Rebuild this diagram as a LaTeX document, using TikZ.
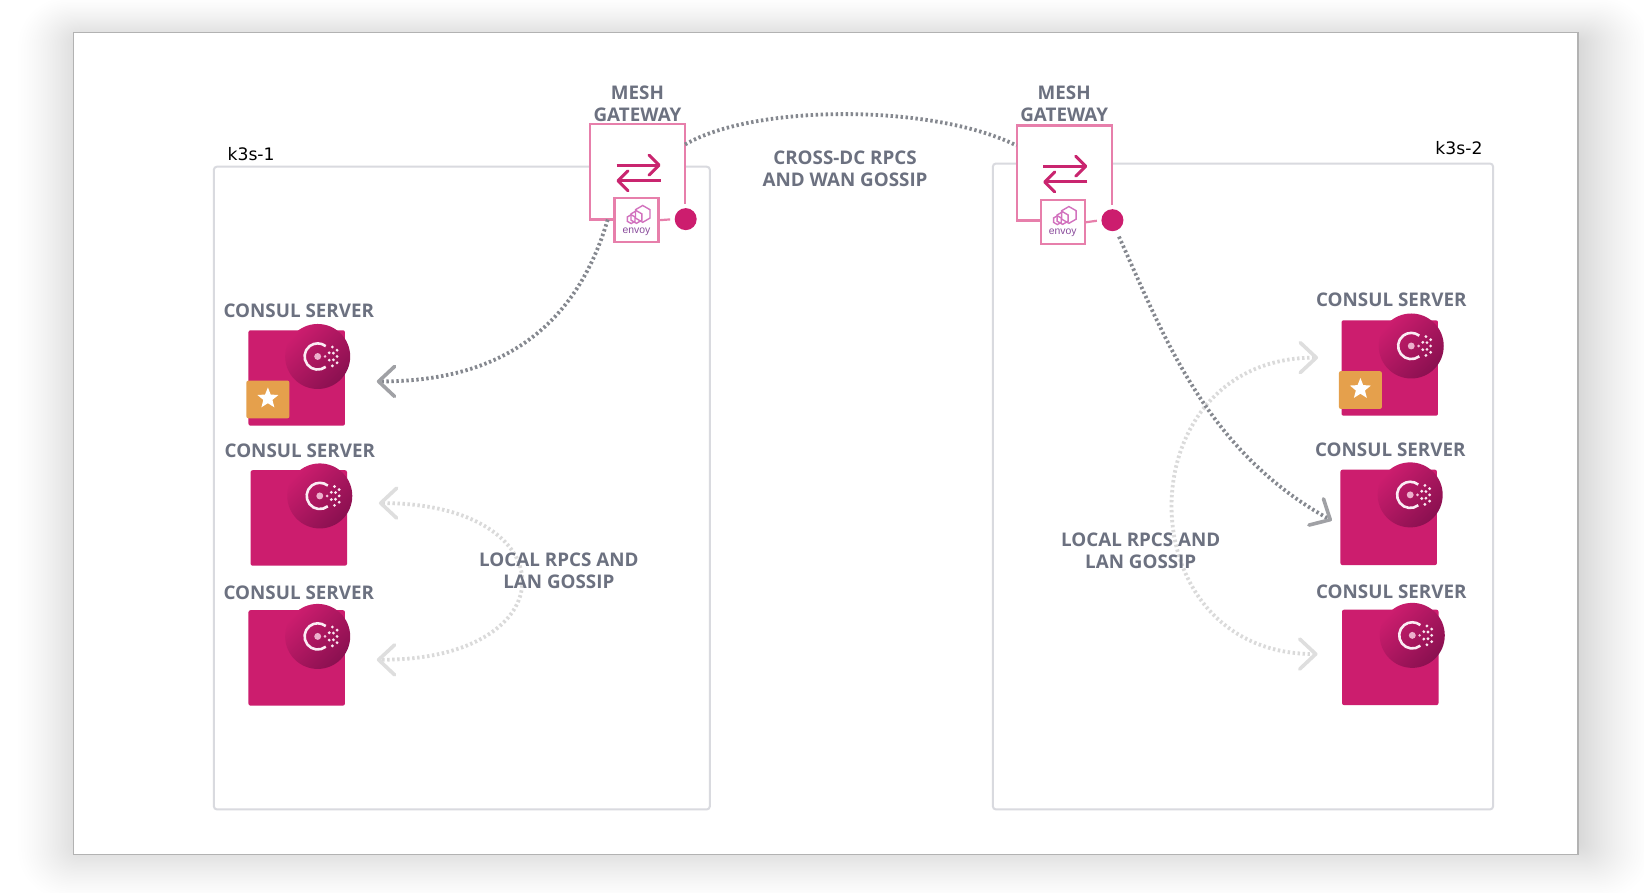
\documentclass[tikz,border=0pt]{standalone}
\usepackage{fontspec}
\setmainfont{Open Sans}
\newfontfamily\kfont{DejaVu Sans}
\newfontfamily\envfont{Liberation Sans}
\usetikzlibrary{arrows.meta,shapes.geometric,calc}
\definecolor{consul}{HTML}{CC1D6E}
\definecolor{consuldark}{HTML}{8A1050}
\definecolor{gwline}{HTML}{E77FAB}
\definecolor{gwarrow}{HTML}{C9256F}
\definecolor{lbl}{HTML}{6C7180}
\definecolor{boxline}{HTML}{D9DADF}
\definecolor{linkdark}{HTML}{85888F}
\definecolor{linklight}{HTML}{DADADA}
\definecolor{tipdark}{HTML}{A0A1A5}
\definecolor{tiplight}{HTML}{DEDEDE}
\definecolor{starbg}{HTML}{E5A04C}
\definecolor{envoyhex}{HTML}{D272BE}
\definecolor{envoytxt}{HTML}{8A4C9C}
\def\U{0.52425pt}
\tikzset{
  lbltext/.style={text=lbl,font=\fontsize{9.4}{11}\selectfont\bfseries,align=center,inner sep=0pt},
  kbox/.style={draw=boxline,line width=1pt,fill=white,rounded corners=1.5pt},
  ktext/.style={font=\fontsize{8.6}{10}\selectfont\kfont,text=black,inner sep=0pt},
  gwbox/.style={fill=white,minimum width=90*\U,minimum height=90*\U,inner sep=0pt},
  gwedge/.style={draw=gwline,line width=1.1pt},
  envbox/.style={draw=gwline,line width=1.1pt,fill=white,minimum width=42*\U,minimum height=42*\U,inner sep=0pt},
  gwdot/.style={circle,fill=consul,minimum size=21*\U,inner sep=0pt},
  serverbox/.style={fill=consul,minimum width=92*\U,minimum height=91*\U,inner sep=0pt,rounded corners=1pt},
  badge/.style={circle,minimum size=62*\U,inner sep=0pt,left color=consul,middle color=consul!65!consuldark,right color=consuldark,shading angle=45},
  starbox/.style={fill=starbg,minimum width=41*\U,minimum height=36*\U,inner sep=0pt,rounded corners=1pt},
  starmark/.style={star,star points=5,star point ratio=2.3,fill=white,minimum size=21*\U,inner sep=0pt},
  darklink/.style={draw=linkdark,line width=1.9pt,dash pattern=on 1.2pt off 1.3pt},
  lightlink/.style={draw=linklight,line width=1.9pt,dash pattern=on 1.2pt off 1.3pt},
  darktip/.style={-{Straight Barb[length=8pt,width=15pt,line width=1.8pt,round,color=tipdark]}},
  lighttips/.style={{Straight Barb[length=8pt,width=15pt,line width=1.8pt,round,color=tiplight]}-{Straight Barb[length=8pt,width=15pt,line width=1.8pt,round,color=tiplight]}},
  pics/consulmark/.style={code={
    \draw[white!92!consul,line width=1.3pt] (52:12.5) arc[start angle=52,end angle=308,radius=12.5];
    \fill[white!65!consul] (0,0) circle (3.3);
    \fill[white!75!consul] (7,0) circle (1.4);
    \foreach \p in {(11,-3.5),(11,3.5),(14,-9),(14,9),(15,-3.2),(15,3.2),(18.5,-6),(18.5,0),(18.5,6)}
      \fill[white!90!consul] \p circle (1.5);
  }},
  pics/swaparrows/.style={code={
    \draw[gwarrow,line width=1.5pt,-{Straight Barb[length=5pt,width=10pt,line width=1.5pt,round]}] (-21,-7) -- (21,-7);
    \draw[gwarrow,line width=1.5pt,-{Straight Barb[length=5pt,width=10pt,line width=1.5pt,round]}] (21,8) -- (-21,8);
  }},
  pics/envoymark/.style={code={
    \foreach \c/\r in {(6,-3)/8,(0,0)/6,(-5,2)/4.2}{
      \draw[envoyhex,line width=0.7pt] \c ++(90:\r) -- ++(-30:\r) -- ++(-90:\r) -- ++(-150:\r) -- ++(150:\r) -- ++(90:\r) -- cycle;
    }
    \node[text=envoytxt,font=\fontsize{5.2}{5.5}\selectfont\envfont,inner sep=0pt] at (0,14) {envoy};
  }},
}
\begin{document}
\begin{tikzpicture}[x=\U,y=-\U]
\useasboundingbox (0,0) rectangle (1568,850.8);
% soft shadow behind the sheet
\foreach \i in {1,...,40}{
  \pgfmathsetmacro{\t}{(\i/40)^0.7}
  \pgfmathsetmacro{\xa}{12+68*\t}
  \pgfmathsetmacro{\ya}{-6+46*\t}
  \pgfmathsetmacro{\xb}{1580-75*\t}
  \pgfmathsetmacro{\yb}{862-57*\t}
  \pgfmathsetmacro{\rr}{26*(1-\t)+1}
  \fill[black,opacity=0.0048,rounded corners=\rr pt] (\xa,\ya) rectangle (\xb,\yb);
}
\path[fill=white,draw=black!30,line width=0.6pt] (70,31) rectangle (1505,815);
% cluster boxes
\path[kbox] (204,159) rectangle (677,772);
\path[kbox] (947,156) rectangle (1424,772);
\node[ktext] (k1) at (239.5,146.5) {k3s-1};
\node[ktext] (k2) at (1391.5,141.5) {k3s-2};
% gateways
\node[gwbox] (gw1) at (608,164) {};
\node[gwbox] (gw2) at (1015,165) {};
\draw[gwedge] ($(gw1.south east)+(0,-15)$) -- (gw1.north east) -- (gw1.north west) -- (gw1.south west) -- (gw1.south);
\draw[gwedge] ($(gw2.south east)+(0,-15)$) -- (gw2.north east) -- (gw2.north west) -- (gw2.south west) -- (gw2.south);
\pic at (609,164.5) {swaparrows};
\pic at (1016,165.5) {swaparrows};
\node[envbox] (env1) at (607,210) {};
\node[envbox] (env2) at (1013.5,212) {};
\pic at (607,207) {envoymark};
\pic at (1013.5,208) {envoymark};
\node[gwdot] (d1) at (654,209) {};
\node[gwdot] (d2) at (1061,210) {};
\draw[gwedge,shorten >=4*\U] (env1.east) -- (d1.west);
\draw[gwedge,shorten >=4*\U] (env2.east) -- (d2.west);
% servers left
\node[serverbox] (s1) at (283,360.5) {};
\node[serverbox] (s2) at (285,494) {};
\node[serverbox] (s3) at (283,627.5) {};
\node[badge] (b1) at (303,340) {};
\node[badge] (b2) at (305,473) {};
\node[badge] (b3) at (303,607) {};
\pic at (b1.center) {consulmark};
\pic at (b2.center) {consulmark};
\pic at (b3.center) {consulmark};
\node[starbox] (sb1) at (255.5,381) {};
\node[starmark] (st1) at (255.5,380) {};
% servers right
\node[serverbox] (s4) at (1325.5,351) {};
\node[serverbox] (s5) at (1324.5,493.5) {};
\node[serverbox] (s6) at (1326,627) {};
\node[badge] (b4) at (1346,330) {};
\node[badge] (b5) at (1345,472) {};
\node[badge] (b6) at (1347,606) {};
\pic at (b4.center) {consulmark};
\pic at (b5.center) {consulmark};
\pic at (b6.center) {consulmark};
\node[starbox] (sb4) at (1297.5,372) {};
\node[starmark] (st4) at (1297.5,371) {};
% connectors
\draw[lightlink,lighttips,shorten <=30*\U,shorten >=30*\U] (s2.17) .. controls (543,480) and (543,630) .. (s3.-2);
\draw[lightlink,lighttips,shorten <=22*\U,shorten >=23*\U] (s4.168) .. controls (1072,341) and (1072,624) .. (s6.176);
\draw[darklink] (gw1.30) .. controls (720,99) and (890,99) .. (gw2.150);
\draw[darklink,darktip,shorten >=30*\U] (gw1.-122) .. controls (550,310) and (480,364) .. (s1.-4);
\draw[darklink,darktip,shorten <=6*\U,shorten >=9*\U] (d2.-70) .. controls (1110,320) and (1150,430) .. (s5.189);
% labels
\node[lbltext] (t1) at (608,99) {MESH\\GATEWAY};
\node[lbltext] (t2) at (1015,99) {MESH\\GATEWAY};
\node[lbltext] (t3) at (806,160.5) {CROSS-DC RPCS\\AND WAN GOSSIP};
\node[lbltext] (t4) at (533,544) {LOCAL RPCS AND\\LAN GOSSIP};
\node[lbltext] (t5) at (1088,525) {LOCAL RPCS AND\\LAN GOSSIP};
\node[lbltext] (c1) at (285,296) {CONSUL SERVER};
\node[lbltext] (c2) at (286,430) {CONSUL SERVER};
\node[lbltext] (c3) at (285,565) {CONSUL SERVER};
\node[lbltext] (c4) at (1327,286) {CONSUL SERVER};
\node[lbltext] (c5) at (1326,429) {CONSUL SERVER};
\node[lbltext] (c6) at (1327,564) {CONSUL SERVER};
\end{tikzpicture}
\end{document}
